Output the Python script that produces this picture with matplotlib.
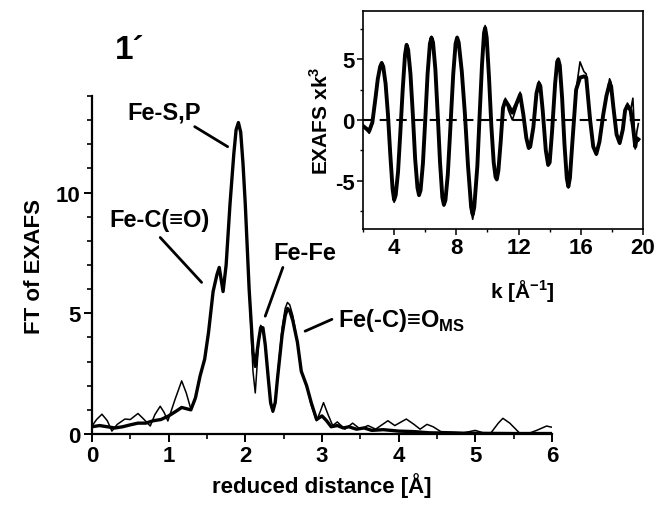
import matplotlib
matplotlib.use('Agg')
import matplotlib.pyplot as plt
from matplotlib.ticker import MultipleLocator

plt.rcParams['font.family'] = ['Liberation Sans', 'DejaVu Sans']
plt.rcParams['font.weight'] = 'bold'
plt.rcParams['axes.unicode_minus'] = False
plt.rcParams['mathtext.fontset'] = 'custom'
plt.rcParams['mathtext.rm'] = 'Liberation Sans:bold'
plt.rcParams['mathtext.bf'] = 'Liberation Sans:bold'

# FT magnitude, thick (fit / averaged) curve
r_thick = [0.00, 0.10, 0.20, 0.30, 0.40, 0.50, 0.60, 0.70, 0.80, 0.90, 1.00,
           1.10, 1.17, 1.23, 1.29, 1.35, 1.41, 1.47, 1.52, 1.58, 1.63, 1.66,
           1.71, 1.75, 1.80, 1.85, 1.88, 1.91, 1.94, 1.97, 2.00, 2.05, 2.10,
           2.13, 2.17, 2.20, 2.23, 2.26, 2.30, 2.33, 2.36, 2.39, 2.42, 2.48,
           2.52, 2.55, 2.58, 2.62, 2.68, 2.73, 2.80, 2.86, 2.93, 3.00, 3.06,
           3.12, 3.20, 3.28, 3.35, 3.45, 3.55, 3.65, 3.80, 3.90, 4.00, 4.20,
           4.40, 4.60, 5.00, 5.50, 6.00]
ft_thick = [0.30, 0.35, 0.30, 0.25, 0.30, 0.38, 0.45, 0.45, 0.55, 0.60, 0.75,
            0.95, 1.10, 1.05, 1.00, 1.50, 2.40, 3.10, 4.20, 5.90, 6.60, 6.90,
            5.90, 7.00, 9.50, 11.60, 12.60, 12.90, 12.50, 11.20, 9.50, 6.00,
            3.40, 2.80, 3.80, 4.40, 4.40, 3.70, 2.30, 1.30, 0.95, 1.30, 2.30,
            4.10, 4.90, 5.20, 5.10, 4.70, 3.80, 2.60, 2.00, 1.30, 0.60, 0.75,
            0.55, 0.30, 0.35, 0.25, 0.30, 0.20, 0.25, 0.15, 0.18, 0.15, 0.12,
            0.10, 0.05, 0.04, 0.03, 0.02, 0.02]

# FT magnitude, thin (experimental) curve
r_thin = [0.00, 0.06, 0.13, 0.20, 0.26, 0.33, 0.43, 0.50, 0.60, 0.68, 0.76,
          0.82, 0.89, 0.94, 0.99, 1.08, 1.17, 1.23, 1.29, 1.35, 1.41, 1.47,
          1.52, 1.58, 1.63, 1.66, 1.71, 1.75, 1.80, 1.85, 1.88, 1.91, 1.94,
          1.97, 2.00, 2.05, 2.10, 2.13, 2.17, 2.20, 2.23, 2.26, 2.30, 2.33,
          2.36, 2.39, 2.42, 2.48, 2.52, 2.55, 2.58, 2.62, 2.68, 2.73, 2.80,
          2.86, 2.93, 2.98, 3.02, 3.08, 3.14, 3.20, 3.30, 3.40, 3.50, 3.60,
          3.70, 3.86, 3.95, 4.10, 4.20, 4.28, 4.37, 4.45, 4.55, 4.70, 4.85,
          5.00, 5.10, 5.20, 5.30, 5.36, 5.45, 5.58, 5.70, 5.80, 5.93, 6.00]
ft_thin = [0.33, 0.60, 0.82, 0.55, 0.12, 0.40, 0.62, 0.60, 0.85, 0.60, 0.33,
           0.80, 1.15, 0.90, 0.54, 1.40, 2.20, 1.70, 1.03, 1.50, 2.40, 3.10,
           4.20, 5.90, 6.60, 6.90, 5.90, 7.00, 9.50, 11.60, 12.60, 12.90,
           12.50, 11.20, 9.50, 6.00, 2.60, 1.70, 3.60, 4.50, 4.40, 3.70, 2.30,
           1.20, 0.90, 1.30, 2.40, 4.40, 5.20, 5.45, 5.35, 4.90, 3.80, 2.60,
           2.00, 1.20, 0.55, 0.95, 1.30, 0.80, 0.35, 0.50, 0.20, 0.45, 0.20,
           0.35, 0.20, 0.55, 0.35, 0.62, 0.40, 0.20, 0.40, 0.30, 0.10, 0.08,
           0.05, 0.15, 0.05, 0.03, 0.45, 0.65, 0.45, 0.03, 0.03, 0.15, 0.33,
           0.28]

# k^3-weighted EXAFS (inset)
k_vals = [2.0, 2.2, 2.4, 2.6, 2.8, 2.95, 3.1, 3.2, 3.3, 3.45, 3.6, 3.75,
          3.9, 4.0, 4.1, 4.25, 4.4, 4.55, 4.7, 4.8, 4.9, 5.05, 5.2, 5.35,
          5.5, 5.6, 5.7, 5.85, 6.0, 6.15, 6.3, 6.4, 6.5, 6.65, 6.8, 6.95,
          7.1, 7.2, 7.3, 7.45, 7.6, 7.8, 7.95, 8.05, 8.15, 8.35, 8.55, 8.75,
          8.95, 9.05, 9.15, 9.35, 9.5, 9.65, 9.78, 9.85, 9.95, 10.1, 10.25,
          10.4, 10.52, 10.6, 10.7, 10.85, 11.0, 11.15, 11.35, 11.6, 11.85,
          12.1, 12.3, 12.5, 12.65, 12.75, 12.95, 13.15, 13.3, 13.4, 13.55,
          13.75, 13.9, 14.0, 14.15, 14.35, 14.48, 14.55, 14.65, 14.8, 14.95,
          15.1, 15.2, 15.3, 15.45, 15.7, 15.95, 16.2, 16.35, 16.6, 16.8, 17.0,
          17.2, 17.45, 17.65, 17.85, 17.95, 18.1, 18.3, 18.5, 18.7, 18.85,
          19.0, 19.2, 19.35, 19.5, 19.6, 19.7]
chi_thick = [-0.5, -0.7, -0.9, -0.2, 1.8, 3.4, 4.4, 4.7, 4.4, 3.0, 0.5, -2.8,
             -5.7, -6.6, -6.2, -4.3, -1.0, 2.5, 5.4, 6.2, 5.8, 3.8, 0.5, -3.2,
             -5.6, -6.2, -5.8, -3.6, 0.0, 3.8, 6.3, 6.8, 6.4, 4.2, 0.5, -3.5,
             -6.4, -7.0, -6.6, -4.5, -1.0, 3.8, 6.3, 6.8, 6.4, 4.0, 0.5, -3.8,
             -7.2, -7.8, -7.2, -3.8, 0.5, 4.6, 7.2, 7.6, 6.8, 3.5, -0.5, -3.5,
             -4.7, -4.9, -4.2, -1.8, 1.0, 1.6, 1.2, 0.6, 1.3, 2.1, 0.5, -1.5,
             -2.3, -2.2, -0.6, 2.2, 3.0, 2.8, 0.8, -2.5, -3.7, -3.5, -1.0, 3.0,
             4.8, 5.0, 4.5, 1.8, -2.0, -4.8, -5.5, -4.8, -2.0, 2.5, 3.5, 3.6,
             3.5, 0.0, -2.2, -2.8, -1.8, 0.5, 2.0, 3.0, 2.8, 1.0, -1.2, -1.9,
             -0.8, 0.8, 1.2, 0.8, -0.5, -2.2, -1.5, -1.6]
chi_thin = [-0.5, -0.8, -1.1, -0.3, 1.8, 3.5, 4.5, 4.8, 4.5, 3.0, 0.5, -2.8,
            -5.8, -6.8, -6.3, -4.3, -1.0, 2.5, 5.5, 6.3, 5.9, 3.8, 0.5, -3.2,
            -5.7, -6.3, -5.9, -3.6, 0.0, 3.8, 6.4, 6.9, 6.5, 4.2, 0.5, -3.5,
            -6.5, -7.1, -6.7, -4.5, -1.0, 3.8, 6.4, 6.9, 6.5, 4.0, 0.5, -3.8,
            -7.5, -8.2, -7.5, -3.8, 0.5, 4.7, 7.4, 7.8, 7.0, 3.5, -0.5, -3.5,
            -4.8, -5.0, -4.3, -1.8, 1.0, 1.8, 0.8, 0.0, 1.0, 2.3, 0.5, -1.5,
            -2.4, -2.3, -0.6, 2.2, 3.2, 3.0, 0.8, -2.5, -3.8, -3.6, -1.0, 3.0,
            4.9, 5.1, 4.6, 1.8, -2.0, -4.9, -5.6, -4.9, -2.0, 2.5, 4.8, 4.0,
            3.8, 0.0, -2.2, -2.9, -1.8, 0.5, 2.0, 3.4, 3.1, 1.0, -1.2, -2.0,
            -0.8, 0.8, 1.4, 0.8, 1.8, -2.4, -1.0, -0.3]

fig = plt.figure(figsize=(6.56, 5.06), dpi=100)

# main FT panel
ax = fig.add_axes([0.1402, 0.1403, 0.7012, 0.668])
ax.plot(r_thin, ft_thin, color='black', lw=1.1)
ax.plot(r_thick, ft_thick, color='black', lw=2.4)
ax.set_xlim(0, 6)
ax.set_ylim(0, 14)
ax.spines['top'].set_visible(False)
ax.spines['right'].set_visible(False)
for s in ('left', 'bottom'):
    ax.spines[s].set_linewidth(1.6)
ax.xaxis.set_major_locator(MultipleLocator(1))
ax.xaxis.set_minor_locator(MultipleLocator(0.5))
ax.yaxis.set_major_locator(MultipleLocator(5))
ax.yaxis.set_minor_locator(MultipleLocator(1))
ax.tick_params(which='major', direction='out', length=6, width=1.4, labelsize=16, pad=2)
ax.tick_params(which='minor', direction='out', length=3.5, width=1.2)
ax.set_xlabel('reduced distance [Å]', fontsize=16, fontweight='bold', labelpad=4)
ax.set_ylabel('FT of EXAFS', fontsize=16, fontweight='bold', labelpad=8)

lbl = dict(fontsize=17, fontweight='bold', ha='center', va='center')
line = dict(arrowstyle='-', lw=2.0, color='black', shrinkA=0, shrinkB=0)
ax.text(0.94, 13.35, 'Fe-S,P', **lbl)
ax.annotate('', xy=(1.77, 11.9), xytext=(1.34, 12.73), arrowprops=line)
ax.text(0.88, 8.88, 'Fe-C(≡O)', **lbl)
ax.annotate('', xy=(1.43, 6.28), xytext=(0.89, 8.14), arrowprops=line)
ax.text(2.77, 7.52, 'Fe-Fe', **lbl)
ax.annotate('', xy=(2.26, 4.88), xytext=(2.49, 6.9), arrowprops=line)
ax.text(3.21, 4.75, r'Fe(-C)≡O$_{\mathbf{MS}}$', fontsize=17, fontweight='bold',
        ha='left', va='center')
ax.annotate('', xy=(2.78, 4.26), xytext=(3.13, 4.75), arrowprops=line)

fig.text(0.198, 0.901, '1´', fontsize=24, fontweight='bold', ha='center', va='center')

# inset: k-space EXAFS
ins = fig.add_axes([0.5534, 0.5455, 0.4268, 0.4308])
ins.axhline(0, color='black', lw=1.5, ls=(0, (5, 3)))
ins.plot(k_vals, chi_thin, color='black', lw=1.2)
ins.plot(k_vals, chi_thick, color='black', lw=2.8)
ins.set_xlim(2, 20)
ins.set_ylim(-9, 9)
for s in ins.spines.values():
    s.set_linewidth(1.2)
ins.xaxis.set_major_locator(MultipleLocator(4))
ins.xaxis.set_minor_locator(MultipleLocator(2))
ins.yaxis.set_major_locator(MultipleLocator(5))
ins.yaxis.set_minor_locator(MultipleLocator(2.5))
ins.tick_params(which='major', direction='out', length=4, width=1.1, labelsize=16, pad=2)
ins.tick_params(which='minor', direction='out', length=2.5, width=1.0)
ins.set_xlabel(r'k [Å$^{\mathbf{-1}}$]', fontsize=15, fontweight='bold')
ins.xaxis.set_label_coords(0.568, -0.22)
ins.set_ylabel(r'EXAFS xk$^{\mathbf{3}}$', fontsize=15, fontweight='bold', labelpad=2)

fig.savefig('out.png', dpi=100)
